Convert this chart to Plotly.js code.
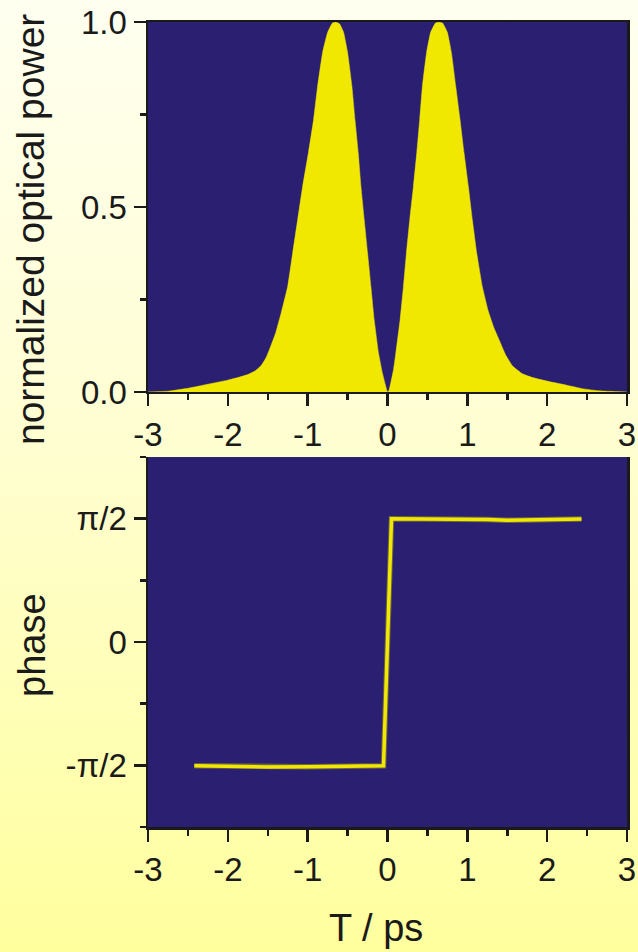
<!DOCTYPE html>
<html>
<head>
<meta charset="utf-8">
<script src="https://cdn.plot.ly/plotly-3.0.1.min.js"></script>
<style>
  html, body { margin: 0; padding: 0; }
  body { width: 638px; height: 952px; background: linear-gradient(to bottom, #fffff0 0%, #fffed2 45%, #ffff9e 100%); }
  #chart { width: 638px; height: 952px; }
</style>
</head>
<body>
<div id="chart"></div>
<script>
// Top panel: normalized optical power vs T (ps)
const powerT = [-3.0, -2.75, -2.5, -2.25, -2.0, -1.875, -1.75, -1.65, -1.58, -1.52, -1.46, -1.4, -1.33, -1.25, -1.1875, -1.125, -1.0625, -0.99, -0.925, -0.875, -0.8125, -0.75, -0.69, -0.65, -0.6, -0.55, -0.5, -0.446, -0.408, -0.367, -0.333, -0.292, -0.25, -0.208, -0.167, -0.1125, -0.0625, 0.0,
  0.02, 0.075, 0.104, 0.158, 0.2, 0.2375, 0.279, 0.325, 0.367, 0.404, 0.4375, 0.49, 0.54, 0.6, 0.64, 0.69, 0.75, 0.8, 0.854, 0.908, 0.958, 1.0125, 1.0625, 1.117, 1.1875, 1.26, 1.33, 1.4, 1.48, 1.567, 1.69, 1.817, 2.025, 2.23, 2.44, 2.65, 2.85, 3.0];
const powerVal = [0.0, 0.002, 0.01, 0.021, 0.032, 0.039, 0.047, 0.058, 0.072, 0.093, 0.125, 0.16, 0.215, 0.285, 0.376, 0.466, 0.556, 0.647, 0.737, 0.827, 0.918, 0.972, 0.997, 1.0, 0.995, 0.972, 0.918, 0.827, 0.737, 0.647, 0.556, 0.466, 0.376, 0.285, 0.195, 0.105, 0.05, 0.0,
  0.005, 0.06, 0.105, 0.195, 0.285, 0.376, 0.466, 0.556, 0.647, 0.737, 0.827, 0.918, 0.972, 0.997, 1.0, 0.997, 0.972, 0.918, 0.827, 0.737, 0.647, 0.556, 0.466, 0.376, 0.285, 0.22, 0.175, 0.14, 0.1, 0.07, 0.049, 0.039, 0.028, 0.019, 0.009, 0.003, 0.001, 0.0];

// Bottom panel: phase (rad) vs T (ps)
const phaseT = [-2.42, -2.0, -1.5, -1.0, -0.5, -0.05, 0.05, 0.5, 1.0, 1.25, 1.5, 1.7, 2.0, 2.43];
const phaseVal = [-1.575, -1.584, -1.592, -1.589, -1.582, -1.576, 1.571, 1.570, 1.564, 1.560, 1.550, 1.556, 1.566, 1.568];

// Tick labels
const xTickVals = [-3, -2, -1, 0, 1, 2, 3];
const powerTickVals = [0, 0.5, 1.0];
const powerTickText = ['0.0', '0.5', '1.0'];
const phaseTickVals = [-Math.PI / 2, 0, Math.PI / 2];
const phaseTickText = ['-π/2', '0', 'π/2'];
const phaseMinorVals = [-3 * Math.PI / 4, -Math.PI / 4, Math.PI / 4, 3 * Math.PI / 4];

const navy = '#2b1f72';
const yellow = '#f0e800';
const ink = '#1a1a1a';
const fontFam = 'Arial, "Liberation Sans", Helvetica, sans-serif';

const traces = [
  {
    x: powerT, y: powerVal, xaxis: 'x', yaxis: 'y',
    type: 'scatter', mode: 'lines', fill: 'tozeroy',
    fillcolor: yellow, line: { color: yellow, width: 0.5, shape: 'spline', smoothing: 0.3 },
    hoverinfo: 'skip'
  },
  {
    x: phaseT, y: phaseVal, xaxis: 'x2', yaxis: 'y2',
    type: 'scatter', mode: 'lines',
    line: { color: '#6e6640', width: 5.5 }, hoverinfo: 'skip'
  },
  {
    x: phaseT, y: phaseVal, xaxis: 'x2', yaxis: 'y2',
    type: 'scatter', mode: 'lines',
    line: { color: yellow, width: 3.5 }, hoverinfo: 'skip'
  }
];

const axisCommon = {
  showgrid: false, zeroline: false, showline: true,
  linecolor: ink, linewidth: 2.5,
  ticks: 'outside', ticklen: 12, tickwidth: 2.5, tickcolor: ink,
  tickfont: { family: fontFam, size: 33, color: ink }
};

const layout = {
  width: 638, height: 952,
  margin: { l: 148, r: 11, t: 22, b: 125, pad: 0 },
  paper_bgcolor: 'rgba(0,0,0,0)',
  plot_bgcolor: navy,
  showlegend: false,
  hovermode: false,
  xaxis: Object.assign({}, axisCommon, {
    domain: [0, 1], anchor: 'y', range: [-3, 3],
    tickmode: 'array', tickvals: xTickVals, ticktext: xTickVals.map(String),
    mirror: true,
    minor: { dtick: 0.5, tick0: -3, ticks: 'outside', ticklen: 6, tickwidth: 2.5, tickcolor: ink }
  }),
  yaxis: Object.assign({}, axisCommon, {
    domain: [0.5404, 1], anchor: 'x', range: [0, 1],
    tickmode: 'array', tickvals: powerTickVals, ticktext: powerTickText,
    mirror: true,
    minor: { tickmode: 'array', tickvals: [0.25, 0.75], ticks: 'outside', ticklen: 6, tickwidth: 2.5, tickcolor: ink }
  }),
  xaxis2: Object.assign({}, axisCommon, {
    domain: [0, 1], anchor: 'y2', range: [-3, 3],
    tickmode: 'array', tickvals: xTickVals, ticktext: xTickVals.map(String),
    minor: { dtick: 0.5, tick0: -3, ticks: 'outside', ticklen: 6, tickwidth: 2.5, tickcolor: ink }
  }),
  yaxis2: Object.assign({}, axisCommon, {
    domain: [0, 0.4596], anchor: 'x2', range: [-3 * Math.PI / 4, 3 * Math.PI / 4],
    tickmode: 'array', tickvals: phaseTickVals, ticktext: phaseTickText,
    mirror: true,
    minor: { tickmode: 'array', tickvals: phaseMinorVals, ticks: 'outside', ticklen: 6, tickwidth: 2.5, tickcolor: ink }
  }),
  annotations: [
    { text: 'normalized optical power', xref: 'paper', yref: 'paper', x: -0.2463, y: 0.7416,
      xanchor: 'center', yanchor: 'middle', textangle: -90, showarrow: false,
      font: { family: fontFam, size: 39, color: ink } },
    { text: 'phase', xref: 'paper', yref: 'paper', x: -0.2422, y: 0.2261,
      xanchor: 'center', yanchor: 'middle', textangle: -90, showarrow: false,
      font: { family: fontFam, size: 38, color: ink } },
    { text: 'T / ps', xref: 'paper', yref: 'paper', x: 0.476, y: -0.1255,
      xanchor: 'center', yanchor: 'middle', showarrow: false,
      font: { family: fontFam, size: 38, color: ink } }
  ]
};

Plotly.newPlot('chart', traces, layout, { staticPlot: true, displayModeBar: false });
</script>
</body>
</html>
